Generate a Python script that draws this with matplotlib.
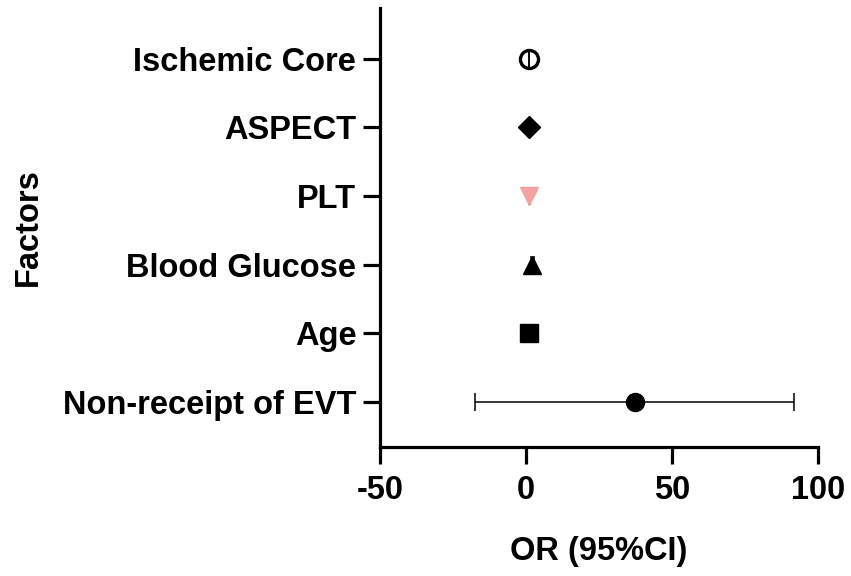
import matplotlib.pyplot as plt

# Forest plot data
factors = ["Non-receipt of EVT", "Age", "Blood Glucose", "PLT", "ASPECT", "Ischemic Core"]
odds_ratio = [37.2, 1.1, 2.2, 1.1, 1.1, 1.1]
ci_low = [-17.4, 0.9, 1.8, 0.9, 0.9, 1.0]
ci_high = [91.7, 1.3, 2.6, 1.3, 1.3, 1.2]
markers = ["o", "s", "^", "v", "D", "o"]
face_colors = ["black", "black", "black", "#F4A3A3", "black", "none"]
edge_colors = ["black", "black", "black", "#F4A3A3", "black", "black"]
marker_sizes = [13, 13, 13, 13, 11, 13]

plt.rcParams['font.family'] = ['Liberation Sans', 'DejaVu Sans']
plt.rcParams['font.weight'] = 'bold'
plt.rcParams['axes.unicode_minus'] = False

fig = plt.figure(figsize=(8.51, 5.76), dpi=100)
ax = fig.add_axes([0.4465, 0.224, 0.5145, 0.762])

for i, name in enumerate(factors):
    y = i + 1
    err = [[odds_ratio[i] - ci_low[i]], [ci_high[i] - odds_ratio[i]]]
    ax.errorbar(odds_ratio[i], y, xerr=err, fmt='none', ecolor='black',
                elinewidth=1.1, capsize=6.5, capthick=1.1, zorder=2)
    ax.plot(odds_ratio[i], y, marker=markers[i], markersize=marker_sizes[i],
            markerfacecolor=face_colors[i], markeredgecolor=edge_colors[i],
            markeredgewidth=2.4 if face_colors[i] == "none" else 1,
            linestyle='none', zorder=3)

ax.set_xlim(-50, 100)
ax.set_ylim(0.34, 6.74)
ax.set_xticks([-50, 0, 50, 100])
ax.set_yticks(range(1, len(factors) + 1))
ax.set_yticklabels(factors)

for side in ['top', 'right']:
    ax.spines[side].set_visible(False)
for side in ['left', 'bottom']:
    ax.spines[side].set_linewidth(2.3)

ax.tick_params(axis='both', length=12, width=2.3, labelsize=23.5)
ax.tick_params(axis='x', pad=8)
ax.tick_params(axis='y', pad=5)
ax.set_xlabel("OR (95%CI)", fontsize=23.5, fontweight='bold', labelpad=22)
ax.set_ylabel("Factors", fontsize=23.5, fontweight='bold', labelpad=14)

fig.savefig("out.png", dpi=100)
